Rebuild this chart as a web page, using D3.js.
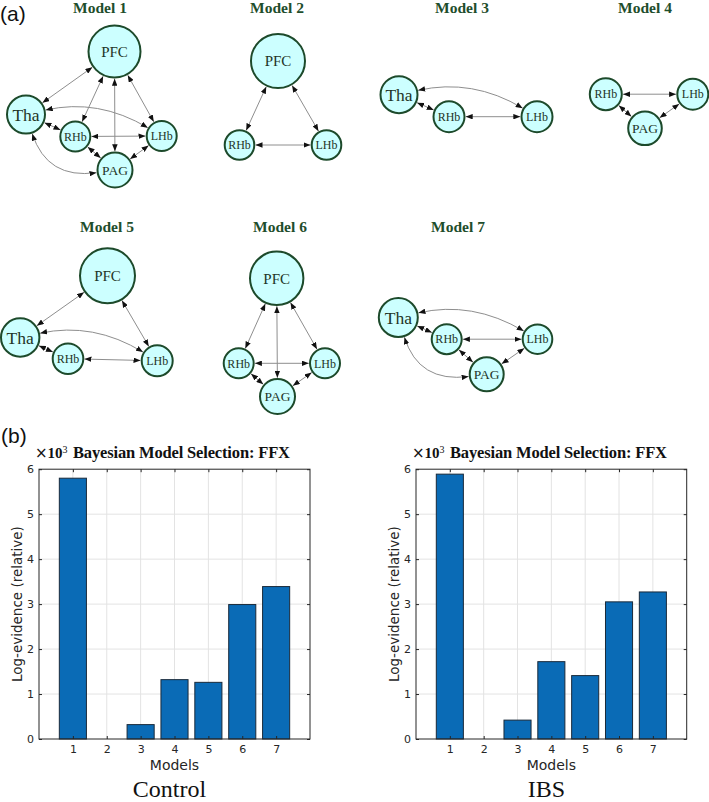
<!DOCTYPE html>
<html><head><meta charset="utf-8">
<script src="https://cdn.jsdelivr.net/npm/d3@7/dist/d3.min.js"></script>
<style>body{margin:0;background:#fff}</style>
</head><body>
<svg id="fig" width="709" height="802"></svg>
<script>
// ---------------- data ----------------
const modelNames = ["Model 1","Model 2","Model 3","Model 4","Model 5","Model 6","Model 7"];
const modelNodes = [
  ["PFC","Tha","RHb","LHb","PAG"],
  ["PFC","RHb","LHb"],
  ["Tha","RHb","LHb"],
  ["RHb","LHb","PAG"],
  ["PFC","Tha","RHb","LHb"],
  ["PFC","RHb","LHb","PAG"],
  ["Tha","RHb","LHb","PAG"]
];
const modelEdges = [
  [["PFC","Tha"],["PFC","RHb"],["PFC","PAG"],["PFC","LHb"],["Tha","LHb"],["Tha","RHb"],["RHb","LHb"],["RHb","PAG"],["LHb","PAG"],["Tha","PAG"]],
  [["PFC","RHb"],["PFC","LHb"],["RHb","LHb"]],
  [["Tha","RHb"],["RHb","LHb"],["Tha","LHb"]],
  [["RHb","LHb"],["RHb","PAG"],["LHb","PAG"]],
  [["PFC","Tha"],["PFC","LHb"],["Tha","LHb"],["Tha","RHb"],["RHb","LHb"]],
  [["PFC","RHb"],["PFC","PAG"],["PFC","LHb"],["RHb","LHb"],["RHb","PAG"],["LHb","PAG"]],
  [["Tha","LHb"],["Tha","RHb"],["RHb","LHb"],["RHb","PAG"],["LHb","PAG"],["Tha","PAG"]]
];
const groups = ["Control","IBS"];
const modelLabels = ["1","2","3","4","5","6","7"];
const controlEvidence = [5.80, 0, 0.32, 1.32, 1.26, 2.99, 3.39];   // x10^3
const ibsEvidence     = [5.89, 0, 0.42, 1.72, 1.41, 3.05, 3.27];   // x10^3
const yTickValues = [0,1,2,3,4,5,6];
const chartTitle = "Bayesian Model Selection: FFX";
const xLabel = "Models";
const yLabel = "Log-evidence (relative)";
const panelLabels = ["(a)","(b)"];

// ---------------- layout / style ----------------
const nodeLayout = [
  {PFC:[114.5,51.5,26], Tha:[26,114.5,19], RHb:[75.3,136.5,15], LHb:[161.7,136,15], PAG:[115,170,17.5]},
  {PFC:[278,61,27], RHb:[239.5,145,14.8], LHb:[326.5,145,14.8]},
  {Tha:[399,94.7,18.5], RHb:[449,116.7,15.5], LHb:[537,116.7,15.5]},
  {RHb:[605.8,94.2,16], LHb:[692.8,94.2,15.5], PAG:[645,128.3,16.8]},
  {PFC:[107.5,275.8,27.5], Tha:[20.2,337.5,19.2], RHb:[68,358.7,15.3], LHb:[157.2,360.8,15.5]},
  {PFC:[276.7,278.3,26.7], RHb:[238.7,363.3,15], LHb:[325,363.3,15], PAG:[277.5,396.5,17.5]},
  {Tha:[398.3,317.5,19.5], RHb:[446.7,339.2,15], LHb:[537.5,339.2,14.8], PAG:[486.7,374.2,17]}
];
const titlePos = [[100,12.5],[277,12.5],[462,12.5],[645,12.5],[107,231.5],[280,231.5],[458,231.5]];
const bends = {"Tha-LHb":0.2, "Tha-PAG":-0.42};
const labelSize = {PFC:15, Tha:17.5, RHb:12, LHb:12, PAG:13.5};

const svg = d3.select("#fig");
const defs = svg.append("defs");
defs.append("marker").attr("id","arr")
  .attr("viewBox","0 0 10 10").attr("refX",10).attr("refY",5)
  .attr("markerWidth",7).attr("markerHeight",5.5)
  .attr("markerUnits","userSpaceOnUse").attr("preserveAspectRatio","none")
  .attr("orient","auto-start-reverse")
  .append("path").attr("d","M0,0L10,5L0,10Z").attr("fill","#111");

// panel labels
svg.append("text").attr("x",0).attr("y",20.5).text(panelLabels[0])
  .attr("font-family","Liberation Sans, Arial, sans-serif").attr("font-size",21).attr("fill","#111");
svg.append("text").attr("x",1).attr("y",443).text(panelLabels[1])
  .attr("font-family","Liberation Sans, Arial, sans-serif").attr("font-size",21).attr("fill","#111");

// ---------------- network panels ----------------
modelNames.forEach((name, mi) => {
  const g = svg.append("g");
  const L = nodeLayout[mi];
  g.append("text").attr("x",titlePos[mi][0]).attr("y",titlePos[mi][1])
    .attr("text-anchor","middle").attr("font-family","Liberation Serif, Times New Roman, serif")
    .attr("font-weight","bold").attr("font-size",15.5).attr("fill","#1f4e2c").text(name);

  const edgeG = g.append("g");
  modelEdges[mi].forEach(([a,b]) => {
    const [ax,ay,ar] = L[a], [bx,by,br] = L[b];
    const bend = bends[a+"-"+b] || 0;
    const gap = 1.2;
    let d;
    if (bend === 0) {
      const dx = bx-ax, dy = by-ay, len = Math.hypot(dx,dy), ux = dx/len, uy = dy/len;
      const p0 = [ax+ux*(ar+gap), ay+uy*(ar+gap)], p1 = [bx-ux*(br+gap), by-uy*(br+gap)];
      d = `M${p0[0]},${p0[1]}L${p1[0]},${p1[1]}`;
    } else {
      const dx = bx-ax, dy = by-ay;
      const cx = (ax+bx)/2 + bend*dy, cy = (ay+by)/2 - bend*dx;
      const u = (px,py,qx,qy) => { const l = Math.hypot(qx-px,qy-py); return [(qx-px)/l,(qy-py)/l]; };
      const ua = u(ax,ay,cx,cy), ub = u(bx,by,cx,cy);
      const p0 = [ax+ua[0]*(ar+gap), ay+ua[1]*(ar+gap)], p1 = [bx+ub[0]*(br+gap), by+ub[1]*(br+gap)];
      d = `M${p0[0]},${p0[1]}Q${cx},${cy} ${p1[0]},${p1[1]}`;
    }
    edgeG.append("path").attr("d",d).attr("fill","none").attr("stroke","#8e8e8e").attr("stroke-width",1)
      .attr("marker-start","url(#arr)").attr("marker-end","url(#arr)");
  });

  const nodeG = g.selectAll("g.node").data(modelNodes[mi]).join("g")
    .attr("transform", n => `translate(${L[n][0]},${L[n][1]})`);
  nodeG.append("circle").attr("r", n => L[n][2]).attr("fill","#ccffff")
    .attr("stroke","#1d4a2b").attr("stroke-width",2);
  nodeG.append("text").attr("text-anchor","middle").attr("dy","0.35em")
    .attr("font-family","Liberation Serif, Times New Roman, serif")
    .attr("font-size", n => labelSize[n]).attr("fill","#1f3527").text(n => n);
});

// ---------------- bar charts ----------------
const charts = [
  {group: groups[0], values: controlEvidence, left: 39, right: 310},
  {group: groups[1], values: ibsEvidence, left: 416, right: 686.7}
];
const plotTop = 469.2, plotBottom = 739;
const axisColor = "#262626";
const sans = "DejaVu Sans, Verdana, sans-serif";
const serif = "Liberation Serif, Times New Roman, serif";

charts.forEach(c => {
  const g = svg.append("g");
  const x = d3.scaleLinear().domain([0, modelLabels.length+1]).range([c.left, c.right]);
  const y = d3.scaleLinear().domain([0, 6]).range([plotBottom, plotTop]);
  const xPos = modelLabels.map((m,i) => i+1);

  // grid
  g.append("g").selectAll("line").data(xPos).join("line")
    .attr("x1", d => x(d)).attr("x2", d => x(d)).attr("y1", plotTop).attr("y2", plotBottom)
    .attr("stroke","#e3e3e3").attr("stroke-width",1);
  g.append("g").selectAll("line").data(yTickValues.slice(1,-1)).join("line")
    .attr("y1", d => y(d)).attr("y2", d => y(d)).attr("x1", c.left).attr("x2", c.right)
    .attr("stroke","#e3e3e3").attr("stroke-width",1);

  // bars
  g.append("g").selectAll("rect").data(c.values.map((v,i)=>({v, i})).filter(d => d.v > 0)).join("rect")
    .attr("x", d => x(d.i+1-0.4)).attr("width", d => x(0.8)-x(0))
    .attr("y", d => y(d.v)).attr("height", d => y(0)-y(d.v))
    .attr("fill","#0a6bb6").attr("stroke","#1a2a3a").attr("stroke-width",1);

  // axes (inward ticks)
  const yAx = g.append("g").attr("transform",`translate(${c.left},0)`)
    .call(d3.axisLeft(y).tickValues(yTickValues).tickFormat(d3.format("d")).tickSize(-3).tickSizeOuter(0).tickPadding(5));
  const yAxR = g.append("g").attr("transform",`translate(${c.right},0)`)
    .call(d3.axisRight(y).tickValues(yTickValues).tickFormat("").tickSize(-3).tickSizeOuter(0));
  const xAx = g.append("g").attr("transform",`translate(0,${plotBottom})`)
    .call(d3.axisBottom(x).tickValues(xPos).tickFormat((d,i) => modelLabels[i]).tickSize(-3).tickSizeOuter(0).tickPadding(6));
  const xAxT = g.append("g").attr("transform",`translate(0,${plotTop})`)
    .call(d3.axisTop(x).tickValues(xPos).tickFormat("").tickSize(-3).tickSizeOuter(0));
  [yAx,yAxR,xAx,xAxT].forEach(a => {
    a.select(".domain").remove();
    a.selectAll(".tick line").attr("stroke",axisColor);
    a.selectAll("text").attr("font-family",sans).attr("font-size",11).attr("fill",axisColor);
  });
  g.append("rect").attr("x",c.left).attr("y",plotTop).attr("width",c.right-c.left).attr("height",plotBottom-plotTop)
    .attr("fill","none").attr("stroke",axisColor).attr("stroke-width",1);

  // labels
  g.append("text").attr("x",(c.left+c.right)/2).attr("y",770).attr("text-anchor","middle")
    .attr("font-family",sans).attr("font-size",14).attr("fill",axisColor).text(xLabel);
  g.append("text").attr("transform",`translate(${c.left-17},${(plotTop+plotBottom)/2}) rotate(-90)`)
    .attr("text-anchor","middle").attr("font-family",sans).attr("font-size",13.5).attr("fill",axisColor).text(yLabel);
  // title
  g.append("text").attr("x",c.left+34).attr("y",458.3).attr("text-anchor","start")
    .attr("textLength",217).attr("lengthAdjust","spacing")
    .attr("font-family",serif).attr("font-weight","bold").attr("font-size",16.5).attr("fill","#111").text(chartTitle);
  // exponent
  const ex = g.append("text").attr("x",c.left-4).attr("y",458.3).attr("fill","#111");
  ex.append("tspan").attr("font-family",sans).attr("font-size",15).text("\u00d7");
  ex.append("tspan").attr("font-family",serif).attr("font-weight","bold").attr("font-size",15).text("10");
  ex.append("tspan").attr("font-family",serif).attr("font-size",10).attr("dy",-5).text("3");
  // group label
  g.append("text").attr("x",(c.left+c.right)/2 - 5).attr("y",797).attr("text-anchor","middle")
    .attr("font-family",serif).attr("font-size",24).attr("fill","#111").text(c.group);
});
</script>
</body></html>
